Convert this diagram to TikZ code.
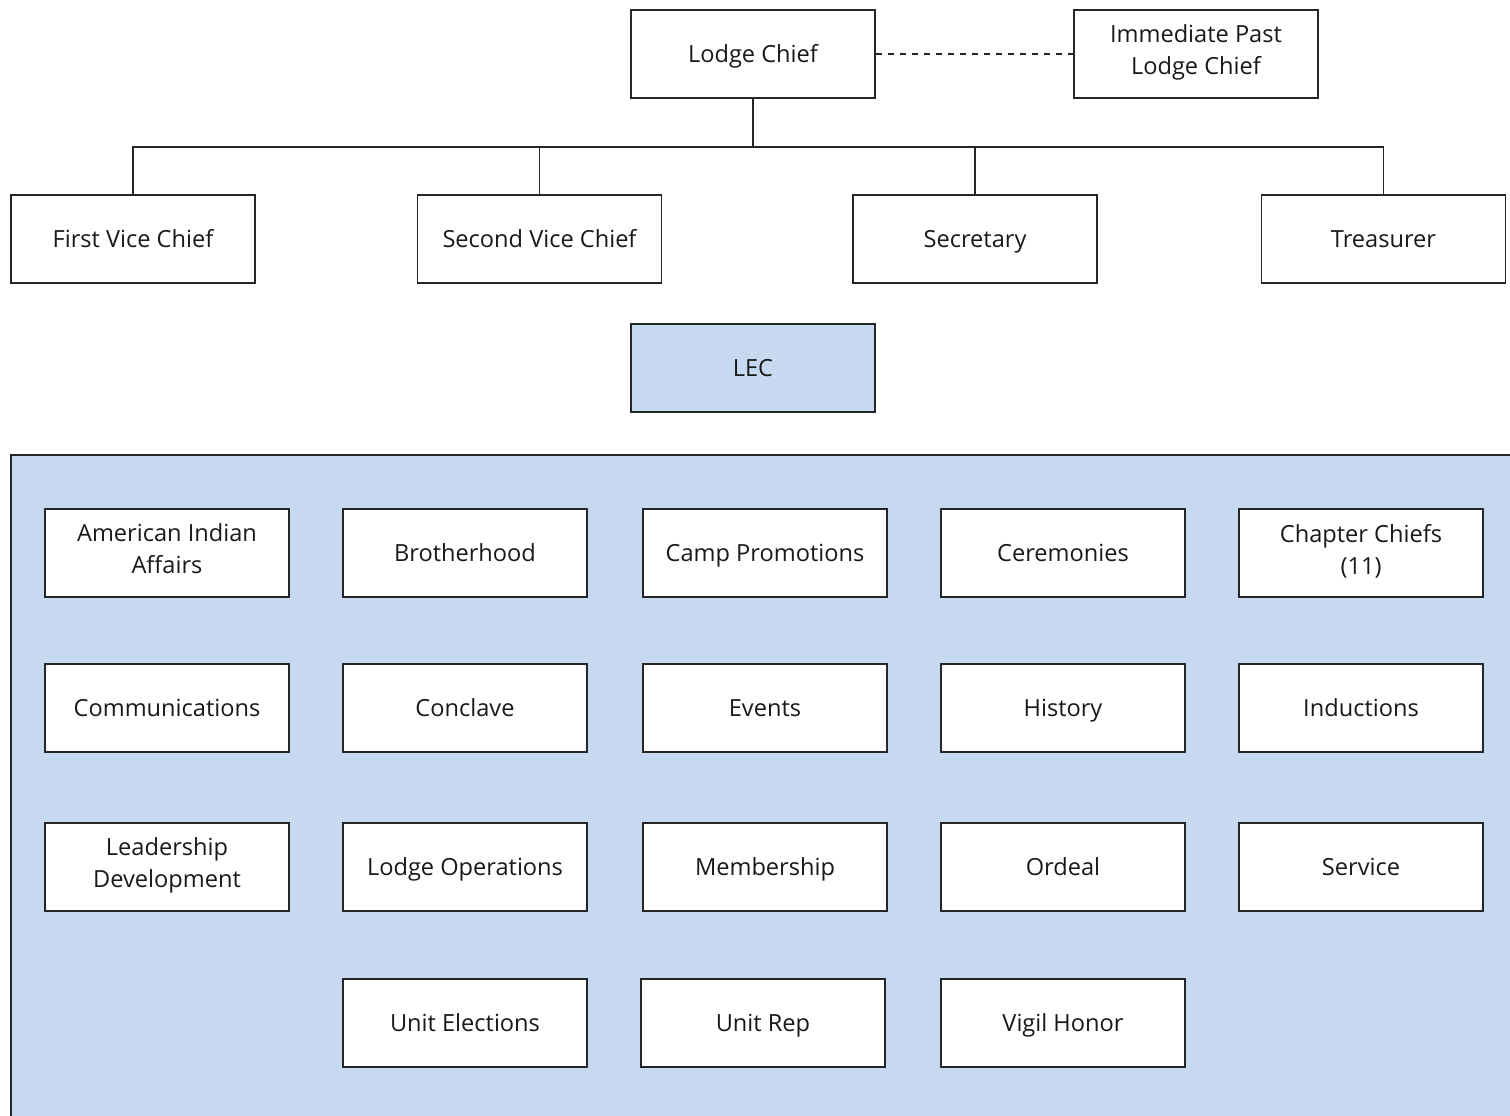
\documentclass[tikz,border=0pt]{standalone}
\usepackage{fontspec}
\setmainfont{Open Sans}
\usepackage{tikz}
\definecolor{lecblue}{HTML}{C6D9F0}

\begin{document}
\begin{tikzpicture}[x=0.5pt, y=-0.5pt,
	office/.style={draw=black!85, line width=0.9pt, fill=white, minimum width=122pt, minimum height=44pt, inner sep=0pt, align=center, font=\fontsize{11.8}{16}\selectfont, text=black!90, execute at begin node=\rule{0pt}{12pt}, execute at end node=\rule[-4pt]{0pt}{4pt}},
	link/.style={draw=black!85, line width=0.9pt}]
	\useasboundingbox (0, 0) rectangle (1510, 1115);
	\filldraw [link, fill=lecblue] (11, 455) rectangle (1530, 1135);
	\node [office] (chief) at (753, 54) {Lodge Chief};
	\node [office] (past) at (1196, 54) {Immediate Past\\Lodge Chief};
	\node [office] (first) at (133, 239) {First Vice Chief};
	\node [office] (second) at (539.5, 239) {Second Vice Chief};
	\node [office] (secretary) at (975, 239) {Secretary};
	\node [office] (treasurer) at (1383.5, 239) {Treasurer};
	\node [office, fill=lecblue] (lec) at (753, 368) {LEC};
	\draw [link, dashed] (chief) -- (past);
	\draw [link] (chief.south) -- ++(0, 48) coordinate (bus);
	\draw [link] (first.north) |- (bus) -| (treasurer.north);
	\draw [link] (second.north) -- (second.north |- bus);
	\draw [link] (secretary.north) -- (secretary.north |- bus);
	\node [office] (indian) at (167, 553) {American Indian\\Affairs};
	\node [office] (brotherhood) at (465, 553) {Brotherhood};
	\node [office] (camp) at (765, 553) {Camp Promotions};
	\node [office] (ceremonies) at (1063, 553) {Ceremonies};
	\node [office] (chapter) at (1361, 553) {Chapter Chiefs\\(11)};
	\node [office] (comms) at (167, 708) {Communications};
	\node [office] (conclave) at (465, 708) {Conclave};
	\node [office] (events) at (765, 708) {Events};
	\node [office] (history) at (1063, 708) {History};
	\node [office] (inductions) at (1361, 708) {Inductions};
	\node [office] (leadership) at (167, 867) {Leadership\\Development};
	\node [office] (operations) at (465, 867) {Lodge Operations};
	\node [office] (membership) at (765, 867) {Membership};
	\node [office] (ordeal) at (1063, 867) {Ordeal};
	\node [office] (service) at (1361, 867) {Service};
	\node [office] (elections) at (465, 1023) {Unit Elections};
	\node [office] (unitrep) at (763, 1023) {Unit Rep};
	\node [office] (vigil) at (1063, 1023) {Vigil Honor};
\end{tikzpicture}
\end{document}
